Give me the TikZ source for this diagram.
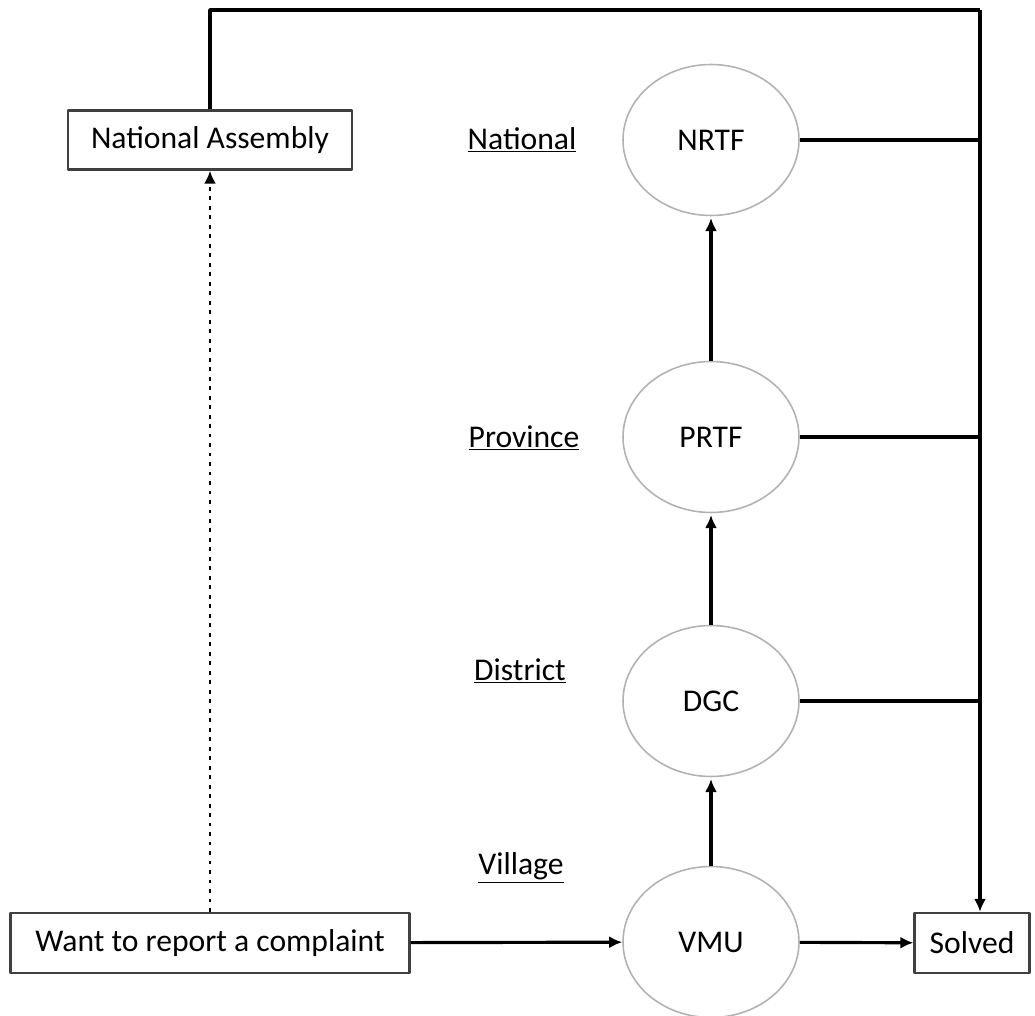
\documentclass[tikz,border=0pt]{standalone}
\usepackage{fontspec}
\setmainfont{Carlito}
\usepackage{tikz}
\usetikzlibrary{arrows, arrows.meta, positioning, shapes}

\begin{document}
\begin{tikzpicture}[>={Latex[length=2.6mm,width=2.4mm]},line join=bevel,x=0.02cm,y=-0.02cm,
        font=\fontsize{18}{21}\selectfont,
        unit/.style={draw=gray!60, ellipse, line width=0.9pt, minimum width=3.52cm, minimum height=3.02cm, inner sep=0pt},
        box/.style={draw=black!75, line width=1.3pt, rectangle, inner sep=2pt},
        level/.style={inner sep=1pt},
        up/.style={->, line width=2.4pt, shorten >=1pt},
        flow/.style={->, line width=1.8pt},
        link/.style={line width=1.8pt}]
        \useasboundingbox (0,0) rectangle (1035,1016);
        % authorities
        \node[unit] (NRTF) at (711,140) {NRTF};
        \node[unit] (PRTF) at (711,437) {PRTF};
        \node[unit] (DGC) at (711,701) {DGC};
        \node[unit] (VMU) at (711,942) {VMU};
        % levels
        \node[level] (lnat) at (522,140) {\underline{National}};
        \node[level] (lprov) at (524,438) {\underline{Province}};
        \node[level] (ldist) at (520,671) {\underline{District}};
        \node[level] (lvil) at (521,868) {\underline{Village}};
        % boxes
        \node[box, minimum width=5.68cm, minimum height=1.18cm] (NA) at (210,140) {National Assembly};
        \node[box, minimum width=7.98cm, minimum height=1.2cm] (want) at (210,943) {Want to report a complaint};
        \node[box, minimum width=2.3cm, minimum height=1.2cm] (solved) at (972,943) {Solved};
        \coordinate (TR) at (980,10);
        % connectors
        \draw[up] (VMU) -- (DGC);
        \draw[up] (DGC) -- (PRTF);
        \draw[up] (PRTF) -- (NRTF);
        \draw[flow] (want) -- (VMU);
        \draw[flow] (VMU) -- (solved);
        \draw[->, line width=1.7pt, dash pattern=on 2.2pt off 3.2pt] (want.north) -- (NA.south);
        \draw[link] (NA.north) |- (TR);
        \draw[flow] (TR) -- (solved.north -| TR);
        \draw[link] (NRTF.east) -- (NRTF.east -| TR);
        \draw[link] (PRTF.east) -- (PRTF.east -| TR);
        \draw[link] (DGC.east) -- (DGC.east -| TR);
      \end{tikzpicture}
\end{document}
